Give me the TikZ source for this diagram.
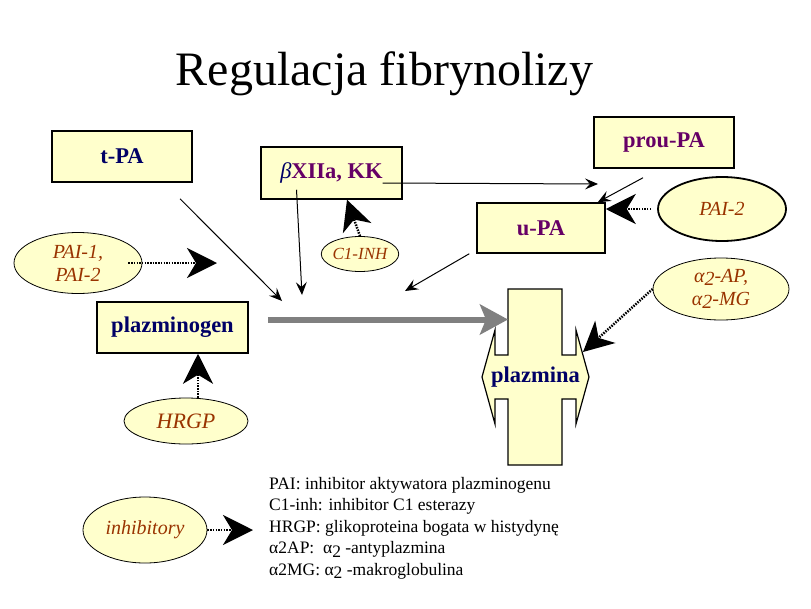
\documentclass[tikz,border=0pt]{standalone}
\usepackage{fontspec}
\setmainfont{Liberation Serif}
\usetikzlibrary{shapes.geometric,arrows.meta}
\definecolor{boxfill}{HTML}{FFFFCC}
\definecolor{navy}{HTML}{000066}
\definecolor{purp}{HTML}{660066}
\definecolor{inhred}{HTML}{993300}
\definecolor{grayarr}{HTML}{808080}
\newcommand{\sbt}[1]{\raisebox{-0.4ex}{#1}}
\begin{document}
\begin{tikzpicture}[x=1pt,y=-1pt,
    box/.style={draw,line width=1.5pt,fill=boxfill,inner sep=0pt,font=\fontsize{22.5}{26}\selectfont\bfseries},
    inh/.style={ellipse,draw,line width=0.8pt,fill=boxfill,inner sep=0pt,align=center,text=inhred,font=\fontsize{20}{23}\selectfont\itshape},
    arr/.style={line width=1pt,-{Stealth[length=13pt,width=11pt,inset=5pt]}},
    blk/.style={line width=2.5pt,dash pattern=on 1.5pt off 1.2pt,-{Stealth[length=30pt,width=30pt,inset=9pt]}}]
    \fill[white] (0,0) rectangle (811,608);
    \useasboundingbox (0,0) rectangle (811,608);

    \node[anchor=base,font=\fontsize{48}{56}\selectfont] (title) at (384.5,85) {Regulacja fibrynolizy};

    % boxes
    \node[box,minimum width=140pt,minimum height=51pt,text=navy] (tpa) at (122,156.5) {t-PA};
    \node[box,minimum width=141pt,minimum height=52pt] (xii) at (331.5,173) {\textcolor{navy}{\normalfont\itshape β}\textcolor{purp}{XIIa, KK}};
    \node[box,minimum width=140pt,minimum height=51pt,text=purp] (prou) at (664,142.5) {prou-PA};
    \node[box,minimum width=128pt,minimum height=50pt,text=purp] (upa) at (541,228) {u-PA};
    \node[box,minimum width=151pt,minimum height=51pt,text=navy] (plg) at (172.5,327.5) {plazminogen};

    % plazmina
    \filldraw[line width=1.2pt,fill=boxfill] (508,289) -- (562,289) -- (562,355) -- (576,355) -- (576,330)
        -- (589,377) -- (576,424) -- (576,399) -- (562,399) -- (562,465) -- (508,465) -- (508,399)
        -- (495,399) -- (495,424) -- (482,377) -- (495,330) -- (495,355) -- (508,355) -- cycle;
    \node[font=\fontsize{22.5}{26}\selectfont\bfseries,text=navy] (plm) at (535.5,377) {plazmina};

    % inhibitors
    \node[inh,minimum width=128pt,minimum height=61pt] (pai1) at (78,263) {PAI-1,\\PAI-2};
    \node[inh,minimum width=128pt,minimum height=64pt,line width=1.8pt] (pai2) at (722,209) {PAI-2};
    \node[inh,minimum width=75pt,minimum height=35pt,font=\fontsize{17}{20}\selectfont\itshape] (c1) at (360,254) {C1-INH};
    \node[inh,minimum width=124pt,minimum height=46pt,font=\fontsize{22}{26}\selectfont\itshape] (hrgp) at (186,421) {HRGP};
    \node[inh,minimum width=136pt,minimum height=62pt] (a2) at (721,289) {α\sbt{2}-AP,\\α\sbt{2}-MG};
    \node[inh,minimum width=124pt,minimum height=66pt] (inh) at (145,530) {inhibitory};

    \node[anchor=north west,align=left,inner sep=0pt,font=\fontsize{17.5}{21.5}\selectfont] (legend) at (269,477)
        {PAI: inhibitor aktywatora plazminogenu\\
         C1-inh: inhibitor C1 esterazy\\
         HRGP: glikoproteina bogata w histydynę\\
         α2AP:\ \ α\sbt{2} -antyplazmina\\
         α2MG: α\sbt{2} -makroglobulina};

    \coordinate (tpaEnd) at (282,301);
    \coordinate (xiiEnd) at (302,295);
    \coordinate (upaEnd) at (405,291);
    \coordinate (prouEnd) at (598,184);
    \coordinate (pai1End) at (217,263);
    \coordinate (a2End) at (583,352);
    \coordinate (legEnd) at (253,530);
    \coordinate (plmW) at (508,319.5);

    % activation
    \draw[arr] ([xshift=58pt,yshift=-16pt]tpa.south) -- (tpaEnd);
    \draw[arr] ([xshift=-35pt,yshift=10pt]xii.south) -- (xiiEnd);
    \draw[arr] ([xshift=51pt,yshift=-10pt]xii.center) -- (prouEnd);
    \draw[arr] ([xshift=-21pt,yshift=-9pt]prou.south) -- ([xshift=-8pt]upa.north east);
    \draw[arr] ([xshift=-7pt]upa.south west) -- (upaEnd);
    \draw[grayarr,line width=6pt,-{Stealth[length=28pt,width=30pt,inset=6pt]}] ([xshift=19pt,yshift=8pt]plg.east) -- (plmW);

    % inhibition
    \draw[blk] ([xshift=-14pt]pai1.east) -- (pai1End);
    \draw[blk] ([xshift=-6pt]pai2.west) -- ([yshift=19pt]upa.east);
    \draw[blk] (c1.north) -- ([xshift=15.5pt]xii.south);
    \draw[blk] ([xshift=12pt]hrgp.north) -- ([xshift=25.5pt]plg.south);
    \draw[blk] (a2.west) -- (a2End);
    \draw[blk] (inh.east) -- (legEnd);
\end{tikzpicture}
\end{document}
